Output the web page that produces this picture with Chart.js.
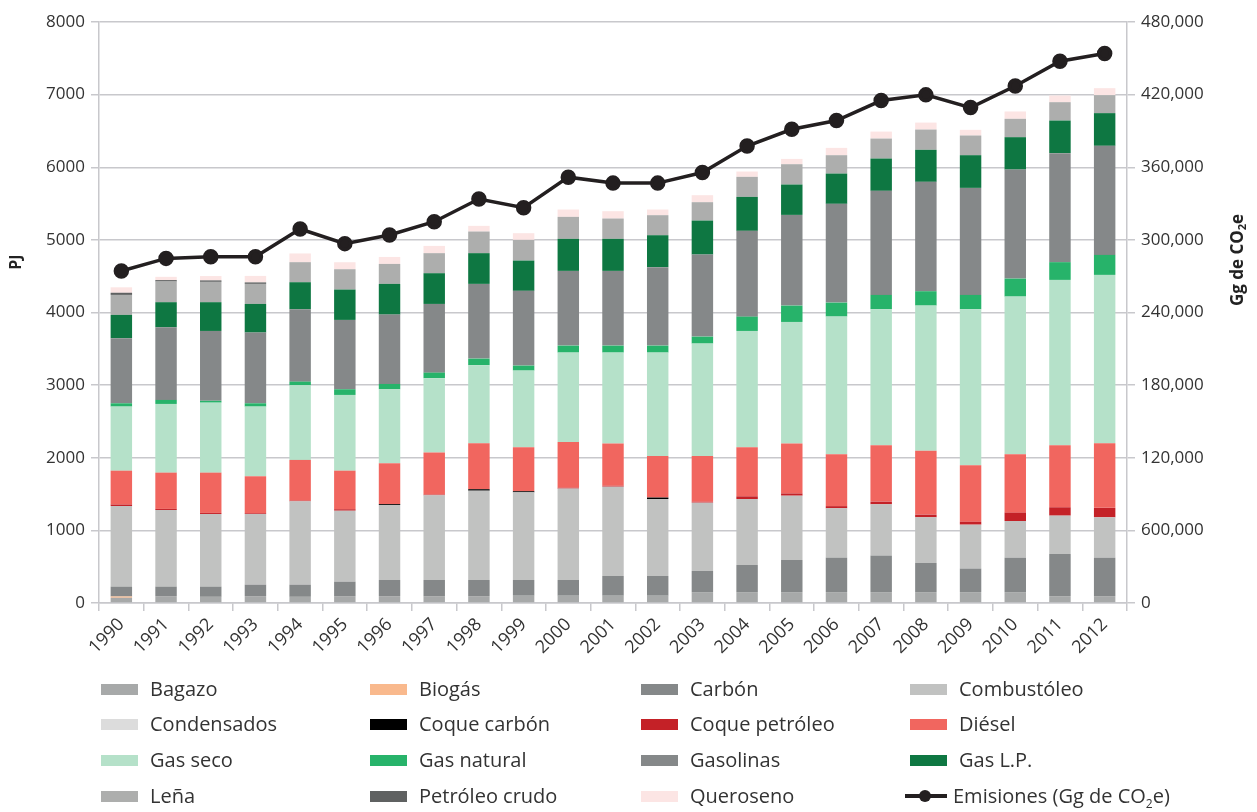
<!DOCTYPE html>
<html>
<head>
<meta charset="utf-8">
<script src="https://cdn.jsdelivr.net/npm/chart.js@4.4.0/dist/chart.umd.min.js"></script>
<style>
  body { margin: 0; background: #fff; }
  #wrap { position: relative; width: 1257px; height: 812px; font-family: 'Open Sans', sans-serif; color: #333; }
  #legend { position: absolute; left: 0; top: 0; width: 1257px; height: 812px; pointer-events: none; }
  .item { position: absolute; font-size: 20px; line-height: 24px; white-space: nowrap; }
  .box { position: absolute; width: 37px; height: 11px; top: 7px; }
  .txt { position: absolute; left: 49px; top: 0; }
</style>
</head>
<body>
<div id="wrap">
  <canvas id="chart" width="1257" height="670"></canvas>
  <div id="legend"></div>
</div>
<script>
// datos (PJ por combustible, 1990-2012)
const years = ['1990','1991','1992','1993','1994','1995','1996','1997','1998','1999','2000','2001','2002','2003','2004','2005','2006','2007','2008','2009','2010','2011','2012'];

const bagazo = [72, 95, 85, 95, 85, 95, 95, 95, 95, 100, 100, 100, 100, 150, 150, 150, 150, 150, 150, 150, 150, 95, 95];
const biogas = [18, 0, 0, 0, 0, 0, 0, 0, 0, 0, 0, 0, 0, 0, 0, 0, 0, 0, 0, 0, 0, 0, 0];
const carbon = [135, 130, 140, 157, 167, 198, 222, 222, 222, 217, 217, 272, 272, 291, 373, 442, 474, 502, 401, 323, 474, 580, 529];
const combustoleo = [1111, 1056, 1001, 974, 1148, 978, 1033, 1166, 1230, 1207, 1258, 1230, 1060, 941, 909, 886, 680, 707, 629, 606, 505, 528, 556];
const condensados = [0, 0, 0, 0, 0, 0, 0, 0, 0, 0, 0, 0, 0, 0, 0, 0, 0, 0, 0, 0, 0, 0, 0];
const coqueCarbon = [0, 0, 0, 0, 0, 0, 12, 0, 20, 15, 0, 0, 20, 0, 0, 0, 0, 0, 0, 0, 0, 0, 0];
const coquePetroleo = [20, 15, 15, 10, 10, 20, 0, 10, 0, 0, 12, 12, 0, 12, 37, 30, 30, 37, 37, 40, 115, 115, 130];
const diesel = [466, 499, 554, 509, 560, 531, 562, 578, 633, 605, 631, 581, 573, 631, 675, 687, 714, 776, 881, 777, 804, 854, 890];
const gasSeco = [882, 946, 964, 959, 1028, 1043, 1019, 1024, 1074, 1056, 1230, 1253, 1423, 1547, 1602, 1675, 1896, 1873, 1997, 2149, 2171, 2277, 2318];
const gasNatural = [46, 55, 25, 46, 50, 78, 73, 77, 91, 69, 96, 96, 96, 96, 197, 225, 192, 197, 198, 197, 248, 244, 275];
const gasolinas = [896, 1001, 962, 974, 997, 955, 955, 946, 1029, 1029, 1029, 1029, 1080, 1130, 1181, 1249, 1360, 1433, 1506, 1474, 1501, 1501, 1502];
const gasLP = [321, 345, 396, 394, 372, 418, 423, 423, 423, 417, 441, 441, 440, 468, 468, 418, 417, 445, 441, 450, 446, 449, 450];
const lena = [275, 284, 280, 276, 276, 280, 275, 276, 298, 285, 303, 280, 276, 253, 276, 280, 253, 275, 279, 271, 253, 253, 248];
const petroleoCrudo = [30, 20, 20, 20, 0, 0, 0, 0, 0, 0, 0, 0, 0, 0, 0, 0, 0, 0, 0, 0, 0, 0, 0];
const queroseno = [75, 45, 60, 90, 120, 96, 96, 100, 78, 92, 101, 101, 78, 96, 73, 73, 101, 96, 96, 78, 101, 92, 96];

// Gg de CO2e
const emisiones = [274300, 284700, 286100, 286100, 309000, 296900, 304000, 315000, 333800, 326600, 351800, 346900, 346900, 355600, 377500, 391400, 398600, 415100, 419800, 409300, 427100, 447600, 454000];

const leftTickLabels = ['0', '1000', '2000', '3000', '4000', '5000', '6000', '7000', '8000'];
const rightTickLabels = ['0', '600,000', '120,000', '180,000', '240,000', '300,000', '360,000', '420,000', '480,000'];

const series = [
  ['Bagazo', bagazo, '#a7a9a9'],
  ['Biogás', biogas, '#f9b98d'],
  ['Carbón', carbon, '#858889'],
  ['Combustóleo', combustoleo, '#c1c2c1'],
  ['Condensados', condensados, '#dcdcdc'],
  ['Coque carbón', coqueCarbon, '#000000'],
  ['Coque petróleo', coquePetroleo, '#c42127'],
  ['Diésel', diesel, '#f1665f'],
  ['Gas seco', gasSeco, '#b5e1c9'],
  ['Gas natural', gasNatural, '#27b36a'],
  ['Gasolinas', gasolinas, '#858889'],
  ['Gas L.P.', gasLP, '#0e7742'],
  ['Leña', lena, '#adaead'],
  ['Petróleo crudo', petroleoCrudo, '#5f6161'],
  ['Queroseno', queroseno, '#fce5e4']
];

const datasets = series.map(([name, values, color]) => ({
  type: 'bar',
  label: name,
  data: values,
  backgroundColor: color,
  borderWidth: 0,
  categoryPercentage: 0.5,
  barPercentage: 0.96,
  yAxisID: 'y'
}));

datasets.push({
  type: 'line',
  label: 'Emisiones (Gg de CO2e)',
  data: emisiones,
  borderColor: '#231f20',
  backgroundColor: '#231f20',
  borderWidth: 3.5,
  pointRadius: 6,
  pointHoverRadius: 6,
  tension: 0,
  yAxisID: 'y1',
  order: -1
});

// titulos de los ejes (con subindice)
const axisTitles = {
  id: 'axisTitles',
  afterDraw(chart) {
    const ctx = chart.ctx;
    ctx.save();
    ctx.fillStyle = '#222';
    ctx.textBaseline = 'middle';
    ctx.font = "bold 16px 'Open Sans'";
    ctx.translate(16, 262);
    ctx.rotate(-Math.PI / 2);
    ctx.textAlign = 'center';
    ctx.fillText('PJ', 0, 0);
    ctx.restore();

    ctx.save();
    ctx.fillStyle = '#222';
    ctx.textBaseline = 'middle';
    ctx.textAlign = 'left';
    const big = "bold 17px 'Open Sans'";
    const small = "bold 11px 'Open Sans'";
    ctx.font = big;
    const w1 = ctx.measureText('Gg de CO').width;
    const w3 = ctx.measureText('e').width;
    ctx.font = small;
    const w2 = ctx.measureText('2').width;
    const total = w1 + w2 + w3;
    ctx.translate(1238, 260);
    ctx.rotate(-Math.PI / 2);
    let x = -total / 2;
    ctx.font = big;
    ctx.fillText('Gg de CO', x, 0);
    x += w1;
    ctx.font = small;
    ctx.fillText('2', x, 5);
    x += w2;
    ctx.font = big;
    ctx.fillText('e', x, 0);
    ctx.restore();
  }
};

Chart.defaults.font.family = "'Open Sans', sans-serif";
Chart.defaults.color = '#333';

const ctx = document.getElementById('chart').getContext('2d');
new Chart(ctx, {
  data: { labels: years, datasets: datasets },
  options: {
    responsive: false,
    animation: false,
    devicePixelRatio: 1,
    layout: { padding: { top: 22, left: 0, right: 0, bottom: 0 } },
    plugins: {
      legend: { display: false },
      tooltip: { enabled: false }
    },
    scales: {
      x: {
        stacked: true,
        afterFit(s) { s.height = 67; },
        grid: { drawOnChartArea: false, tickLength: 8, color: '#c8c8cc', lineWidth: 1.5 },
        border: { color: '#c8c8cc', width: 1.5 },
        ticks: { font: { size: 18 }, minRotation: 45, maxRotation: 45, padding: 3, color: '#333' }
      },
      y: {
        stacked: true,
        position: 'left',
        min: 0,
        max: 8000,
        afterFit(s) { s.width = 99; },
        grid: { color: '#c8c8cc', lineWidth: 1.5, tickLength: 8 },
        border: { color: '#c8c8cc', width: 1.5 },
        ticks: {
          stepSize: 1000,
          padding: 6,
          font: { size: 17 },
          color: '#333',
          callback: (v, i) => leftTickLabels[i]
        }
      },
      y1: {
        position: 'right',
        min: 0,
        max: 480000,
        afterFit(s) { s.width = 130; },
        grid: { drawOnChartArea: false, color: '#c8c8cc', lineWidth: 1.5, tickLength: 8 },
        border: { color: '#c8c8cc', width: 1.5 },
        ticks: {
          stepSize: 60000,
          padding: 6,
          font: { size: 17 },
          color: '#333',
          callback: (v, i) => rightTickLabels[i]
        }
      }
    }
  },
  plugins: [axisTitles]
});

// leyenda en 4 columnas
const colX = [101, 370, 641, 910];
const rowY = [677, 712, 748, 784];
const legend = document.getElementById('legend');
series.forEach(([name, values, color], i) => {
  const el = document.createElement('div');
  el.className = 'item';
  el.style.left = colX[i % 4] + 'px';
  el.style.top = rowY[Math.floor(i / 4)] + 'px';
  el.innerHTML = '<div class="box" style="background:' + color + '"></div><div class="txt">' + name + '</div>';
  legend.appendChild(el);
});
const em = document.createElement('div');
em.className = 'item';
em.style.left = '905px';
em.style.top = rowY[3] + 'px';
em.innerHTML = '<div style="position:absolute;left:0;top:10px;width:42px;height:4px;background:#231f20"></div>' +
  '<div style="position:absolute;left:14px;top:6px;width:12px;height:12px;border-radius:6px;background:#231f20"></div>' +
  '<div class="txt" style="left:48px">Emisiones (Gg de CO<sub style="font-size:12px">2</sub>e)</div>';
legend.appendChild(em);
</script>
</body>
</html>
